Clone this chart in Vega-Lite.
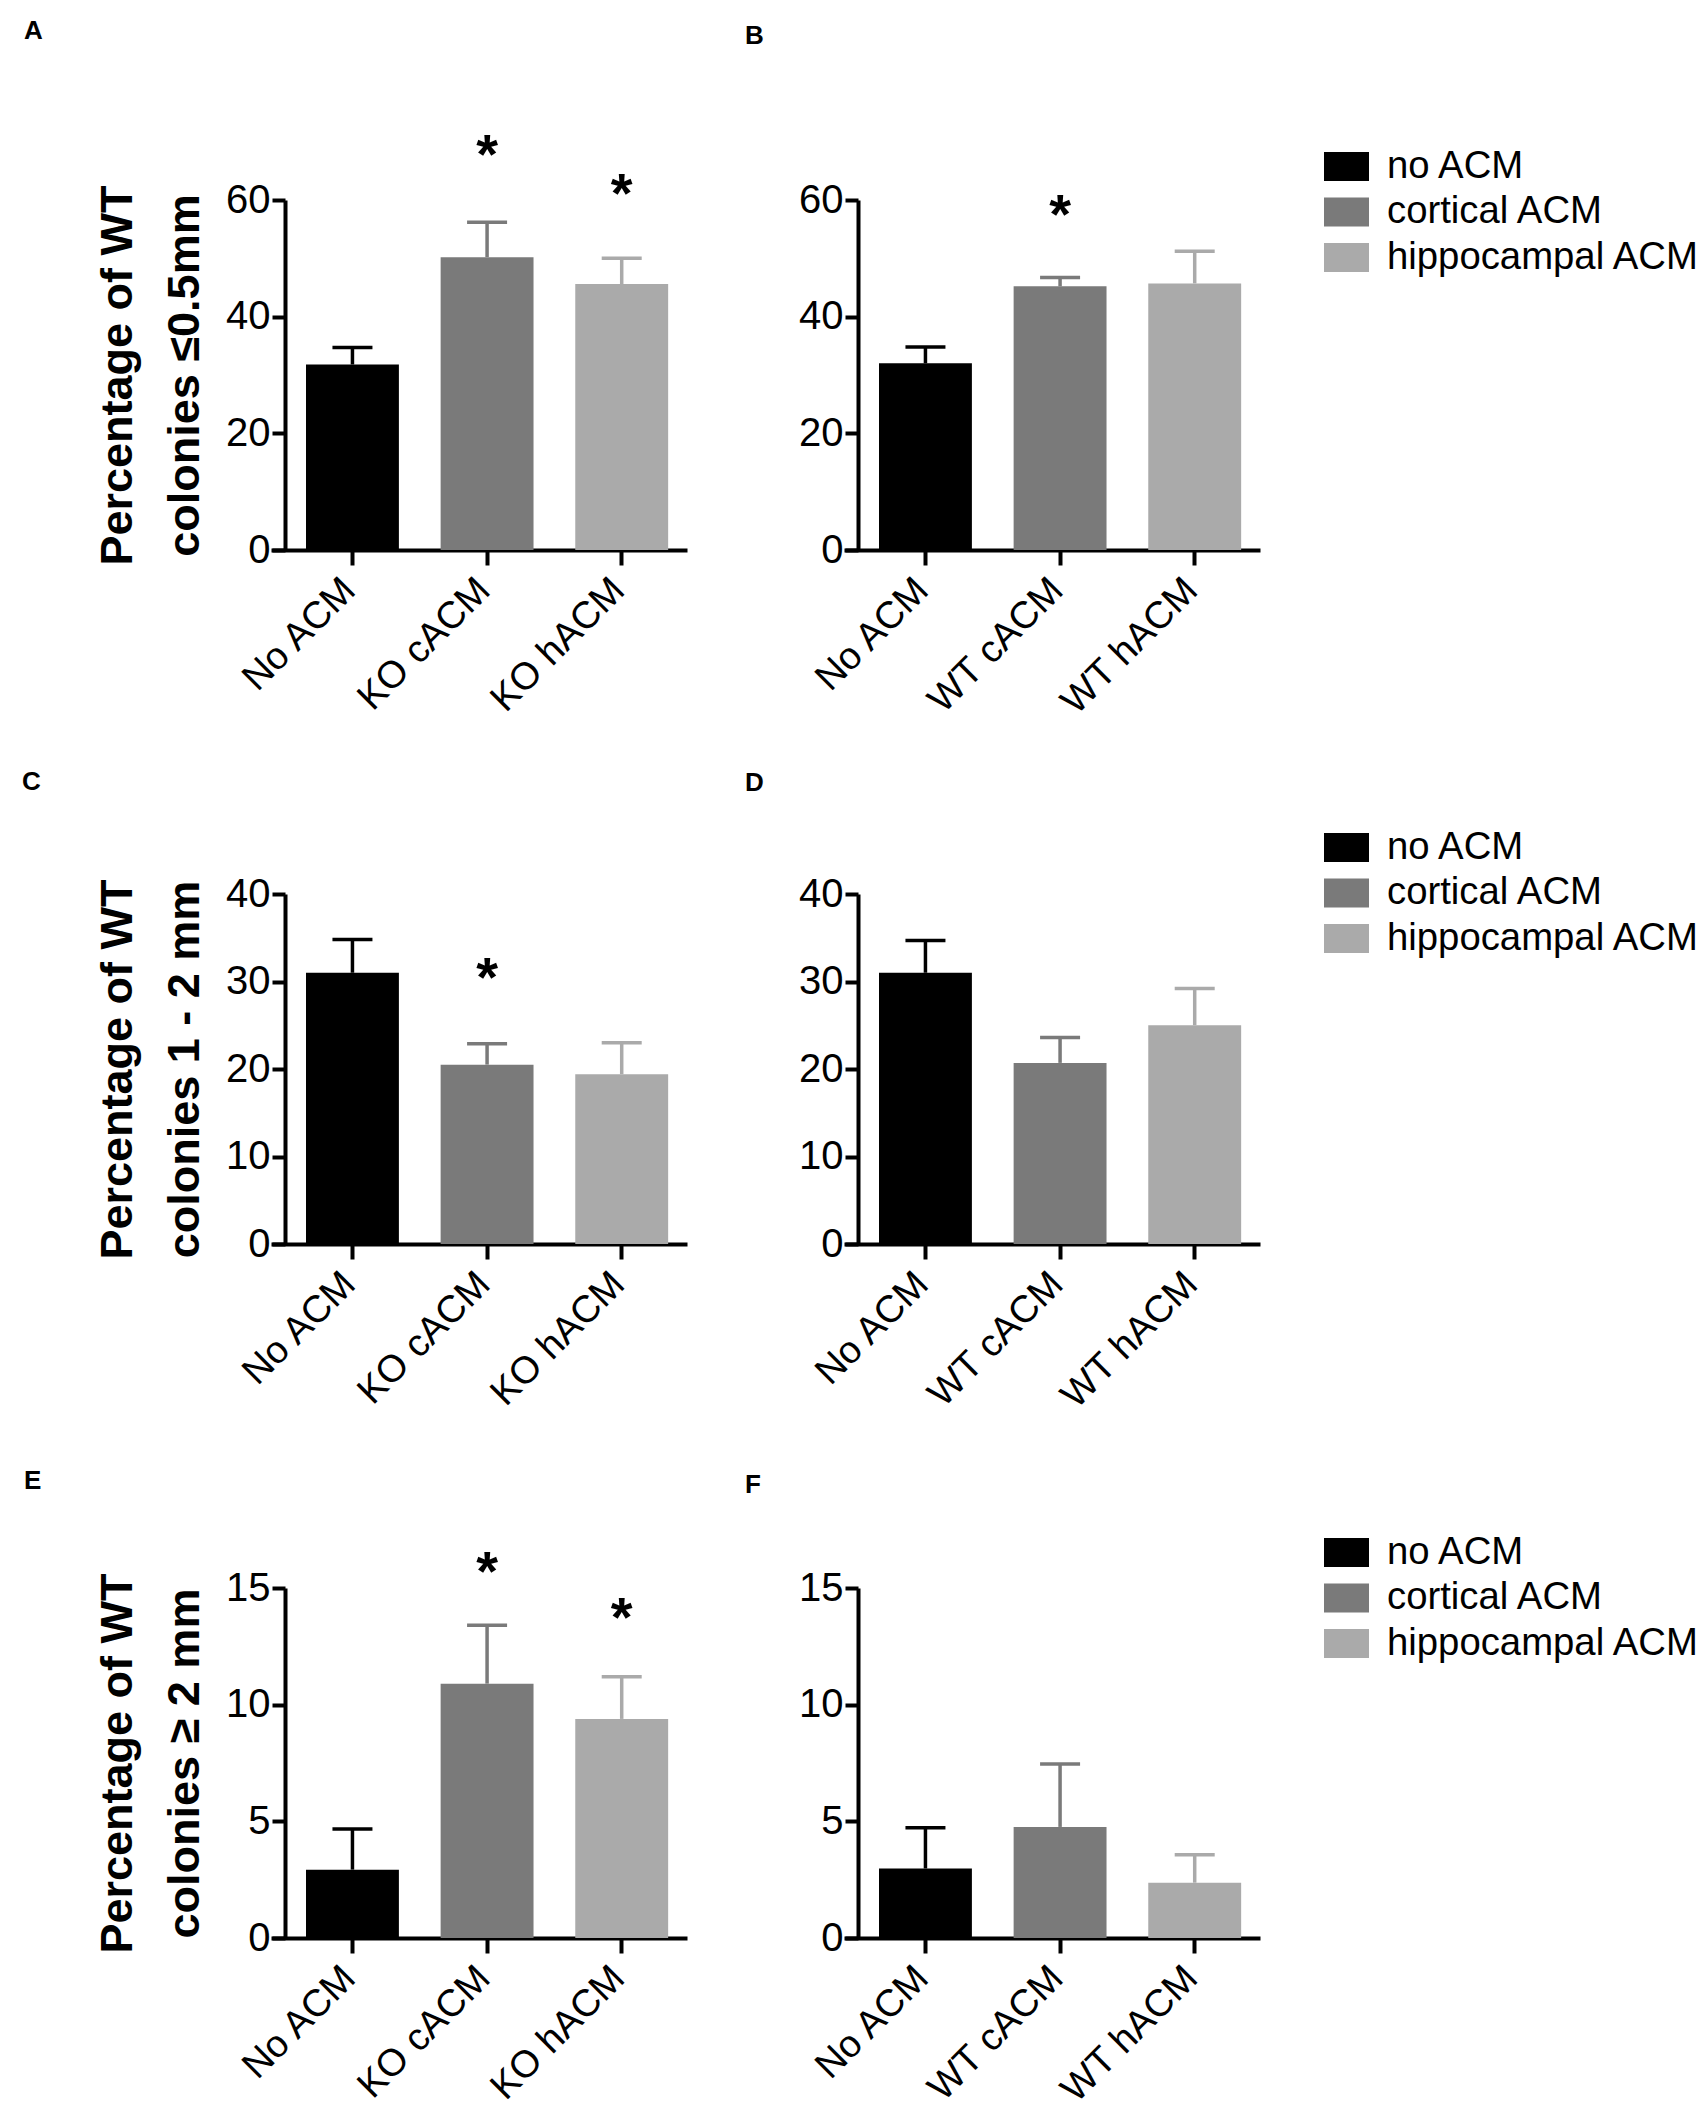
{
  "$schema": "https://vega.github.io/schema/vega-lite/v6.json",
  "autosize": {"type": "none"},
  "padding": {"left": 271, "top": 200, "right": 1429, "bottom": 1914},
  "config": {
    "view": {"stroke": null},
    "font": "Liberation Sans",
    "range": {"category": ["#000000", "#7a7a7a", "#aaaaaa"]},
    "axis": {
      "domainColor": "#000000", "domainWidth": 4, "tickColor": "#000000", "tickWidth": 4,
      "labelFont": "Liberation Sans", "labelFontSize": 40, "labelColor": "#000000", "labelLimit": 0, "grid": false,
      "titleFont": "Liberation Sans", "titleFontSize": 45, "titleFontWeight": "bold", "titleColor": "#000000",
      "titleLineHeight": 67
    },
    "axisY": {"tickSize": 13, "labelPadding": 2, "offset": -14, "titlePadding": 18},
    "axisX": {"tickSize": 15, "labelAngle": -45, "labelFontSize": 38, "labelAlign": "right", "labelBaseline": "alphabetic", "labelPadding": 27, "labelOffset": 5},
    "title": {"font": "Liberation Sans", "fontSize": 26, "fontWeight": "bold", "color": "#000000", "anchor": "start", "frame": "group", "baseline": "alphabetic"},
    "legend": {
      "labelFont": "Liberation Sans", "labelFontSize": 38.3, "labelColor": "#000000",
      "symbolType": "M-1,-0.644H1V0.644H-1Z", "symbolSize": 2025, "symbolStrokeWidth": 0, "symbolOpacity": 1,
      "rowPadding": 4.5, "labelOffset": 18, "padding": 0, "orient": "none", "legendX": 480, "labelLimit": 500
    }
  },
  "datasets": {
    "bars": [
      {"panel": "A", "group": "No ACM", "acm": "no ACM", "value": 31.8, "upper": 34.7, "star": null},
      {"panel": "A", "group": "KO cACM", "acm": "cortical ACM", "value": 50.2, "upper": 56.2, "star": 69.0},
      {"panel": "A", "group": "KO hACM", "acm": "hippocampal ACM", "value": 45.6, "upper": 50.0, "star": 62.2},
      {"panel": "B", "group": "No ACM", "acm": "no ACM", "value": 32.0, "upper": 34.8, "star": null},
      {"panel": "B", "group": "WT cACM", "acm": "cortical ACM", "value": 45.2, "upper": 46.7, "star": 58.6},
      {"panel": "B", "group": "WT hACM", "acm": "hippocampal ACM", "value": 45.7, "upper": 51.2, "star": null},
      {"panel": "C", "group": "No ACM", "acm": "no ACM", "value": 31.0, "upper": 34.8, "star": null},
      {"panel": "C", "group": "KO cACM", "acm": "cortical ACM", "value": 20.5, "upper": 22.9, "star": 31.2},
      {"panel": "C", "group": "KO hACM", "acm": "hippocampal ACM", "value": 19.4, "upper": 23.0, "star": null},
      {"panel": "D", "group": "No ACM", "acm": "no ACM", "value": 31.0, "upper": 34.7, "star": null},
      {"panel": "D", "group": "WT cACM", "acm": "cortical ACM", "value": 20.7, "upper": 23.6, "star": null},
      {"panel": "D", "group": "WT hACM", "acm": "hippocampal ACM", "value": 25.0, "upper": 29.2, "star": null},
      {"panel": "E", "group": "No ACM", "acm": "no ACM", "value": 2.93, "upper": 4.67, "star": null},
      {"panel": "E", "group": "KO cACM", "acm": "cortical ACM", "value": 10.9, "upper": 13.4, "star": 16.0},
      {"panel": "E", "group": "KO hACM", "acm": "hippocampal ACM", "value": 9.39, "upper": 11.2, "star": 14.0},
      {"panel": "F", "group": "No ACM", "acm": "no ACM", "value": 2.98, "upper": 4.72, "star": null},
      {"panel": "F", "group": "WT cACM", "acm": "cortical ACM", "value": 4.76, "upper": 7.46, "star": null},
      {"panel": "F", "group": "WT hACM", "acm": "hippocampal ACM", "value": 2.37, "upper": 3.57, "star": null}
    ]
  },
  "data": {"name": "bars"},
  "columns": 2,
  "bounds": "flush",
  "spacing": {"row": 344, "column": 157},
  "resolve": {"scale": {"fill": "independent", "stroke": "independent"}},
  "concat": [
    {
      "width": 416, "height": 350,
      "title": {"text": "A", "dx": -247, "offset": 84},
      "transform": [{"filter": "datum.panel == 'A'"}],
      "encoding": {"x": {"field": "group", "type": "nominal", "sort": null, "title": null, "scale": {"paddingInner": 0.31, "paddingOuter": 0.2, "align": 0.65}}},
      "layer": [
        {"mark": {"type": "rule", "strokeWidth": 3.5}, "encoding": {
          "y": {"field": "value", "type": "quantitative", "scale": {"domain": [0, 60], "nice": false}, "axis": {"values": [0, 20, 40, 60], "title": ["Percentage of WT", "colonies ≤0.5mm"]}},
          "y2": {"field": "upper"},
          "stroke": {"field": "acm", "type": "nominal", "sort": null, "legend": null}}},
        {"mark": {"type": "tick", "thickness": 3.5, "size": 40, "opacity": 1}, "encoding": {
          "y": {"field": "upper", "type": "quantitative"},
          "fill": {"field": "acm", "type": "nominal", "sort": null, "legend": null}}},
        {"mark": "bar", "encoding": {
          "y": {"field": "value", "type": "quantitative"},
          "fill": {"field": "acm", "type": "nominal", "sort": null, "legend": null}}},
        {"transform": [{"filter": "isValid(datum.star)"}], "mark": {"type": "text", "text": "*", "fontSize": 56, "fontWeight": "bold", "dy": 8, "color": "#000000"}, "encoding": {
          "y": {"field": "star", "type": "quantitative"}}}
      ]
    },
    {
      "width": 416, "height": 350,
      "title": {"text": "B", "dx": -99, "offset": 95},
      "transform": [{"filter": "datum.panel == 'B'"}],
      "encoding": {"x": {"field": "group", "type": "nominal", "sort": null, "title": null, "scale": {"paddingInner": 0.31, "paddingOuter": 0.2, "align": 0.65}}},
      "layer": [
        {"mark": {"type": "rule", "strokeWidth": 3.5}, "encoding": {
          "y": {"field": "value", "type": "quantitative", "scale": {"domain": [0, 60], "nice": false}, "axis": {"values": [0, 20, 40, 60], "title": null}},
          "y2": {"field": "upper"},
          "stroke": {"field": "acm", "type": "nominal", "sort": null, "legend": null}}},
        {"mark": {"type": "tick", "thickness": 3.5, "size": 40, "opacity": 1}, "encoding": {
          "y": {"field": "upper", "type": "quantitative"},
          "fill": {"field": "acm", "type": "nominal", "sort": null, "legend": {"title": null, "legendY": -56}}}},
        {"mark": "bar", "encoding": {
          "y": {"field": "value", "type": "quantitative"},
          "fill": {"field": "acm", "type": "nominal", "sort": null, "legend": {"title": null, "legendY": -56}}}},
        {"transform": [{"filter": "isValid(datum.star)"}], "mark": {"type": "text", "text": "*", "fontSize": 56, "fontWeight": "bold", "dy": 8, "color": "#000000"}, "encoding": {
          "y": {"field": "star", "type": "quantitative"}}}
      ]
    },
    {
      "width": 416, "height": 350,
      "title": {"text": "C", "dx": -249, "offset": 79},
      "transform": [{"filter": "datum.panel == 'C'"}],
      "encoding": {"x": {"field": "group", "type": "nominal", "sort": null, "title": null, "scale": {"paddingInner": 0.31, "paddingOuter": 0.2, "align": 0.65}}},
      "layer": [
        {"mark": {"type": "rule", "strokeWidth": 3.5}, "encoding": {
          "y": {"field": "value", "type": "quantitative", "scale": {"domain": [0, 40], "nice": false}, "axis": {"values": [0, 10, 20, 30, 40], "title": ["Percentage of WT", "colonies 1 - 2 mm"]}},
          "y2": {"field": "upper"},
          "stroke": {"field": "acm", "type": "nominal", "sort": null, "legend": null}}},
        {"mark": {"type": "tick", "thickness": 3.5, "size": 40, "opacity": 1}, "encoding": {
          "y": {"field": "upper", "type": "quantitative"},
          "fill": {"field": "acm", "type": "nominal", "sort": null, "legend": null}}},
        {"mark": "bar", "encoding": {
          "y": {"field": "value", "type": "quantitative"},
          "fill": {"field": "acm", "type": "nominal", "sort": null, "legend": null}}},
        {"transform": [{"filter": "isValid(datum.star)"}], "mark": {"type": "text", "text": "*", "fontSize": 56, "fontWeight": "bold", "dy": 8, "color": "#000000"}, "encoding": {
          "y": {"field": "star", "type": "quantitative"}}}
      ]
    },
    {
      "width": 416, "height": 350,
      "title": {"text": "D", "dx": -99, "offset": 29},
      "transform": [{"filter": "datum.panel == 'D'"}],
      "encoding": {"x": {"field": "group", "type": "nominal", "sort": null, "title": null, "scale": {"paddingInner": 0.31, "paddingOuter": 0.2, "align": 0.65}}},
      "layer": [
        {"mark": {"type": "rule", "strokeWidth": 3.5}, "encoding": {
          "y": {"field": "value", "type": "quantitative", "scale": {"domain": [0, 40], "nice": false}, "axis": {"values": [0, 10, 20, 30, 40], "title": null}},
          "y2": {"field": "upper"},
          "stroke": {"field": "acm", "type": "nominal", "sort": null, "legend": null}}},
        {"mark": {"type": "tick", "thickness": 3.5, "size": 40, "opacity": 1}, "encoding": {
          "y": {"field": "upper", "type": "quantitative"},
          "fill": {"field": "acm", "type": "nominal", "sort": null, "legend": {"title": null, "legendY": -69}}}},
        {"mark": "bar", "encoding": {
          "y": {"field": "value", "type": "quantitative"},
          "fill": {"field": "acm", "type": "nominal", "sort": null, "legend": {"title": null, "legendY": -69}}}}
      ]
    },
    {
      "width": 416, "height": 350,
      "title": {"text": "E", "dx": -247, "offset": 51},
      "transform": [{"filter": "datum.panel == 'E'"}],
      "encoding": {"x": {"field": "group", "type": "nominal", "sort": null, "title": null, "scale": {"paddingInner": 0.31, "paddingOuter": 0.2, "align": 0.65}}},
      "layer": [
        {"mark": {"type": "rule", "strokeWidth": 3.5}, "encoding": {
          "y": {"field": "value", "type": "quantitative", "scale": {"domain": [0, 15], "nice": false}, "axis": {"values": [0, 5, 10, 15], "title": ["Percentage of  WT", "colonies ≥ 2 mm"]}},
          "y2": {"field": "upper"},
          "stroke": {"field": "acm", "type": "nominal", "sort": null, "legend": null}}},
        {"mark": {"type": "tick", "thickness": 3.5, "size": 40, "opacity": 1}, "encoding": {
          "y": {"field": "upper", "type": "quantitative"},
          "fill": {"field": "acm", "type": "nominal", "sort": null, "legend": null}}},
        {"mark": "bar", "encoding": {
          "y": {"field": "value", "type": "quantitative"},
          "fill": {"field": "acm", "type": "nominal", "sort": null, "legend": null}}},
        {"transform": [{"filter": "isValid(datum.star)"}], "mark": {"type": "text", "text": "*", "fontSize": 56, "fontWeight": "bold", "dy": 8, "color": "#000000"}, "encoding": {
          "y": {"field": "star", "type": "quantitative"}}}
      ]
    },
    {
      "width": 416, "height": 350,
      "title": {"text": "F", "dx": -99, "offset": 32},
      "transform": [{"filter": "datum.panel == 'F'"}],
      "encoding": {"x": {"field": "group", "type": "nominal", "sort": null, "title": null, "scale": {"paddingInner": 0.31, "paddingOuter": 0.2, "align": 0.65}}},
      "layer": [
        {"mark": {"type": "rule", "strokeWidth": 3.5}, "encoding": {
          "y": {"field": "value", "type": "quantitative", "scale": {"domain": [0, 15], "nice": false}, "axis": {"values": [0, 5, 10, 15], "title": null}},
          "y2": {"field": "upper"},
          "stroke": {"field": "acm", "type": "nominal", "sort": null, "legend": null}}},
        {"mark": {"type": "tick", "thickness": 3.5, "size": 40, "opacity": 1}, "encoding": {
          "y": {"field": "upper", "type": "quantitative"},
          "fill": {"field": "acm", "type": "nominal", "sort": null, "legend": {"title": null, "legendY": -58}}}},
        {"mark": "bar", "encoding": {
          "y": {"field": "value", "type": "quantitative"},
          "fill": {"field": "acm", "type": "nominal", "sort": null, "legend": {"title": null, "legendY": -58}}}}
      ]
    }
  ]
}
